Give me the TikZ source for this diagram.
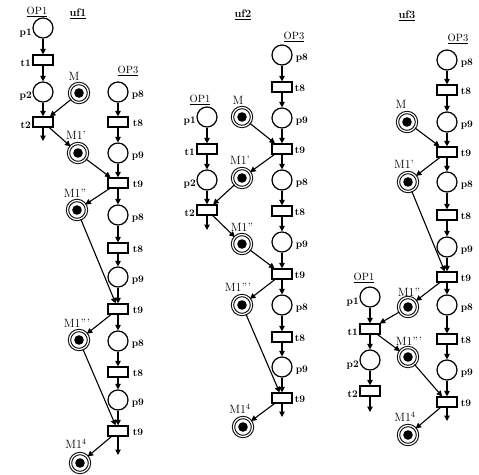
\documentclass[tikz,border=0pt]{standalone}
\usetikzlibrary{arrows.meta}
\begin{document}
\begin{tikzpicture}[x=1pt,y=-1pt,
  place/.style={circle,draw,line width=1.2pt,minimum size=20pt,inner sep=0pt},
  tok/.style={circle,draw,line width=1pt,double,double distance=1.3pt,minimum size=19pt,inner sep=0pt,
    path picture={\fill (path picture bounding box.center) circle (4.8pt);}},
  trans/.style={rectangle,draw,line width=1.2pt,minimum width=20pt,minimum height=10pt,inner sep=0pt},
  arc/.style={-{Triangle[length=5.5pt,width=5.5pt]},line width=1.1pt},
  lbl/.style={font=\fontsize{10}{11}\selectfont\bfseries,inner sep=1pt},
  mlbl/.style={font=\fontsize{12}{13}\selectfont,inner sep=0pt},
  oplbl/.style={font=\fontsize{10.5}{12}\selectfont,inner sep=0pt},
  ttl/.style={font=\fontsize{11}{12}\selectfont\bfseries,inner sep=0pt}]
\useasboundingbox (0,0) rectangle (479,474);

%% ---------------- uf1 ----------------
\node[ttl] (T1) at (78,14) {\underline{uf1}};
\node[oplbl] (OPa) at (37,12) {\underline{OP1}};
\node[oplbl] (OPb) at (128,71) {\underline{OP3}};
\node[place] (a-p1) at (43,28) {};
\node[trans] (a-t1) at (43,60) {};
\node[place] (a-p2) at (43,92) {};
\node[trans] (a-t2) at (43,122) {};
\coordinate (a-o1) at (43,141);
\node[lbl,anchor=east] at (33,33) {p1};
\node[lbl,anchor=east] at (32,63) {t1};
\node[lbl,anchor=east] at (33,96) {p2};
\node[lbl,anchor=east] at (32,125) {t2};

\node[place] (a-p8a) at (118,92) {};
\node[trans] (a-t8a) at (118,122) {};
\node[place] (a-p9a) at (118,153) {};
\node[trans] (a-t9a) at (118,183) {};
\node[place] (a-p8b) at (118,215) {};
\node[trans] (a-t8b) at (118,248) {};
\node[place] (a-p9b) at (118,277) {};
\node[trans] (a-t9b) at (118,309) {};
\node[place] (a-p8c) at (118,341) {};
\node[trans] (a-t8c) at (118,372) {};
\node[place] (a-p9c) at (118,400) {};
\node[trans] (a-t9c) at (118,431) {};
\coordinate (a-o2) at (118,455);
\foreach \n/\t in {p8a/p8,p9a/p9,p8b/p8,p9b/p9,p8c/p8,p9c/p9}
  \node[lbl,anchor=west] at ([xshift=2pt,yshift=-3pt]a-\n.east) {\t};
\foreach \n/\t in {t8a/t8,t9a/t9,t8b/t8,t9b/t9,t8c/t8,t9c/t9}
  \node[lbl,anchor=west] at ([xshift=3pt,yshift=-1pt]a-\n.east) {\t};

\node[tok] (a-M) at (79,93) {};
\node[tok] (a-M1) at (78,153) {};
\node[tok] (a-M2) at (77,210) {};
\node[tok] (a-M3) at (79,340) {};
\node[tok] (a-M4) at (80,463) {};
\node[mlbl] at (74,76) {M};
\node[mlbl] at (76,135) {M1'};
\node[mlbl] at (75,193) {M1''};
\node[mlbl] at (77,323) {M1'''};
\node[mlbl] at (76,444) {M1$^4$};

\draw[arc] (a-p1) -- (a-t1);
\draw[arc] (a-t1) -- (a-p2);
\draw[arc] (a-p2) -- (a-t2);
\draw[arc] (a-t2) -- (a-o1);
\draw[arc] (a-p8a) -- (a-t8a);
\draw[arc] (a-t8a) -- (a-p9a);
\draw[arc] (a-p9a) -- (a-t9a);
\draw[arc] (a-t9a) -- (a-p8b);
\draw[arc] (a-p8b) -- (a-t8b);
\draw[arc] (a-t8b) -- (a-p9b);
\draw[arc] (a-p9b) -- (a-t9b);
\draw[arc] (a-t9b) -- (a-p8c);
\draw[arc] (a-p8c) -- (a-t8c);
\draw[arc] (a-t8c) -- (a-p9c);
\draw[arc] (a-p9c) -- (a-t9c);
\draw[arc] (a-t9c) -- (a-o2);
\draw[arc] (a-M) -- (a-t2);
\draw[arc] (a-t2) -- (a-M1);
\draw[arc] (a-M1) -- (a-t9a);
\draw[arc] (a-t9a) -- (a-M2);
\draw[arc] (a-M2) -- (a-t9b);
\draw[arc] (a-t9b) -- (a-M3);
\draw[arc] (a-M3) -- (a-t9c);
\draw[arc] (a-t9c) -- (a-M4);

%% ---------------- uf2 ----------------
\node[ttl] (T2) at (243,15) {\underline{uf2}};
\node[oplbl] (OPc) at (294,37) {\underline{OP3}};
\node[oplbl] (OPd) at (200,100) {\underline{OP1}};
\node[place] (b-p1) at (207,117) {};
\node[trans] (b-t1) at (207,149) {};
\node[place] (b-p2) at (207,180) {};
\node[trans] (b-t2) at (207,210) {};
\coordinate (b-o1) at (207,230);
\node[lbl,anchor=east] at (197,121) {p1};
\node[lbl,anchor=east] at (196,152) {t1};
\node[lbl,anchor=east] at (197,184) {p2};
\node[lbl,anchor=east] at (196,213) {t2};

\node[place] (b-p8a) at (282,55) {};
\node[trans] (b-t8a) at (282,87) {};
\node[place] (b-p9a) at (282,118) {};
\node[trans] (b-t9a) at (282,149) {};
\node[place] (b-p8b) at (282,180) {};
\node[trans] (b-t8b) at (282,211) {};
\node[place] (b-p9b) at (282,242) {};
\node[trans] (b-t9b) at (282,274) {};
\node[place] (b-p8c) at (282,305) {};
\node[trans] (b-t8c) at (282,337) {};
\node[place] (b-p9c) at (282,367) {};
\node[trans] (b-t9c) at (282,398) {};
\coordinate (b-o2) at (282,417);
\foreach \n/\t in {p8a/p8,p9a/p9,p8b/p8,p9b/p9,p8c/p8,p9c/p9}
  \node[lbl,anchor=west] at ([xshift=2pt,yshift=-3pt]b-\n.east) {\t};
\foreach \n/\t in {t8a/t8,t9a/t9,t8b/t8,t9b/t9,t8c/t8,t9c/t9}
  \node[lbl,anchor=west] at ([xshift=1pt,yshift=-1pt]b-\n.east) {\t};

\node[tok] (b-M) at (242,117) {};
\node[tok] (b-M1) at (242,178) {};
\node[tok] (b-M2) at (242,244) {};
\node[tok] (b-M3) at (242,305) {};
\node[tok] (b-M4) at (243,427) {};
\node[mlbl] at (238,100) {M};
\node[mlbl] at (240,160) {M1'};
\node[mlbl] at (242,227) {M1''};
\node[mlbl] at (238,287) {M1'''};
\node[mlbl] at (240,409) {M1$^4$};

\draw[arc] (b-p1) -- (b-t1);
\draw[arc] (b-t1) -- (b-p2);
\draw[arc] (b-p2) -- (b-t2);
\draw[arc] (b-t2) -- (b-o1);
\draw[arc] (b-p8a) -- (b-t8a);
\draw[arc] (b-t8a) -- (b-p9a);
\draw[arc] (b-p9a) -- (b-t9a);
\draw[arc] (b-t9a) -- (b-p8b);
\draw[arc] (b-p8b) -- (b-t8b);
\draw[arc] (b-t8b) -- (b-p9b);
\draw[arc] (b-p9b) -- (b-t9b);
\draw[arc] (b-t9b) -- (b-p8c);
\draw[arc] (b-p8c) -- (b-t8c);
\draw[arc] (b-t8c) -- (b-p9c);
\draw[arc] (b-p9c) -- (b-t9c);
\draw[arc] (b-t9c) -- (b-o2);
\draw[arc] (b-M) -- (b-t9a);
\draw[arc] (b-t9a) -- (b-M1);
\draw[arc] (b-M1) -- (b-t2);
\draw[arc] (b-t2) -- (b-M2);
\draw[arc] (b-M2) -- (b-t9b);
\draw[arc] (b-t9b) -- (b-M3);
\draw[arc] (b-M3) -- (b-t9c);
\draw[arc] (b-t9c) -- (b-M4);

%% ---------------- uf3 ----------------
\node[ttl] (T3) at (407,16) {\underline{uf3}};
\node[oplbl] (OPe) at (458,39) {\underline{OP3}};
\node[oplbl] (OPf) at (364,278) {\underline{OP1}};
\node[place] (c-p1) at (370,297) {};
\node[trans] (c-t1) at (370,329) {};
\node[place] (c-p2) at (370,360) {};
\node[trans] (c-t2) at (370,391) {};
\coordinate (c-o1) at (370,412);
\node[lbl,anchor=east] at (360,302) {p1};
\node[lbl,anchor=east] at (359,332) {t1};
\node[lbl,anchor=east] at (360,365) {p2};
\node[lbl,anchor=east] at (359,394) {t2};

\node[place] (c-p8a) at (447,60) {};
\node[trans] (c-t8a) at (447,90) {};
\node[place] (c-p9a) at (447,122) {};
\node[trans] (c-t9a) at (447,152) {};
\node[place] (c-p8b) at (447,182) {};
\node[trans] (c-t8b) at (447,215) {};
\node[place] (c-p9b) at (447,247) {};
\node[trans] (c-t9b) at (447,277) {};
\node[place] (c-p8c) at (447,305) {};
\node[trans] (c-t8c) at (447,339) {};
\node[place] (c-p9c) at (447,370) {};
\node[trans] (c-t9c) at (447,402) {};
\coordinate (c-o2) at (447,421);
\foreach \n/\t in {p8a/p8,p9a/p9,p8b/p8,p9b/p9,p8c/p8,p9c/p9}
  \node[lbl,anchor=west] at ([xshift=2pt,yshift=-3pt]c-\n.east) {\t};
\foreach \n/\t in {t8a/t8,t9a/t9,t8b/t8,t9b/t9,t8c/t8,t9c/t9}
  \node[lbl,anchor=west] at ([xshift=2pt,yshift=-1pt]c-\n.east) {\t};

\node[tok] (c-M) at (407,122) {};
\node[tok] (c-M1) at (408,182) {};
\node[tok] (c-M2) at (408,307) {};
\node[tok] (c-M3) at (408,357) {};
\node[tok] (c-M4) at (408,435) {};
\node[mlbl] at (401,104) {M};
\node[mlbl] at (404,164) {M1'};
\node[mlbl] at (409,292) {M1''};
\node[mlbl] at (409,341) {M1'''};
\node[mlbl] at (405,417) {M1$^4$};

\draw[arc] (c-p1) -- (c-t1);
\draw[arc] (c-t1) -- (c-p2);
\draw[arc] (c-p2) -- (c-t2);
\draw[arc] (c-t2) -- (c-o1);
\draw[arc] (c-p8a) -- (c-t8a);
\draw[arc] (c-t8a) -- (c-p9a);
\draw[arc] (c-p9a) -- (c-t9a);
\draw[arc] (c-t9a) -- (c-p8b);
\draw[arc] (c-p8b) -- (c-t8b);
\draw[arc] (c-t8b) -- (c-p9b);
\draw[arc] (c-p9b) -- (c-t9b);
\draw[arc] (c-t9b) -- (c-p8c);
\draw[arc] (c-p8c) -- (c-t8c);
\draw[arc] (c-t8c) -- (c-p9c);
\draw[arc] (c-p9c) -- (c-t9c);
\draw[arc] (c-t9c) -- (c-o2);
\draw[arc] (c-M) -- (c-t9a);
\draw[arc] (c-t9a) -- (c-M1);
\draw[arc] (c-M1) -- (c-t9b);
\draw[arc] (c-t9b) -- (c-M2);
\draw[arc] (c-M2) -- (c-t1);
\draw[arc] (c-t1) -- (c-M3);
\draw[arc] (c-M3) -- (c-t9c);
\draw[arc] (c-t9c) -- (c-M4);
\end{tikzpicture}
\end{document}
